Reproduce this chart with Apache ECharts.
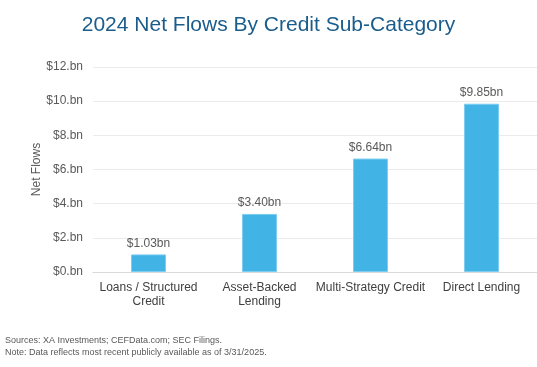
<!DOCTYPE html>
<html>
<head>
<meta charset="utf-8">
<script src="https://cdn.jsdelivr.net/npm/echarts@6/dist/echarts.min.js"></script>
<style>html,body{margin:0;padding:0;background:#fff;}#c{width:537px;height:367px;}</style>
</head>
<body>
<div id="c"></div>
<script>
var categories = ['Loans / Structured\nCredit', 'Asset-Backed\nLending', 'Multi-Strategy Credit', 'Direct Lending'];
var netFlows = [1.03, 3.40, 6.64, 9.85];
var yTicks = [0, 2, 4, 6, 8, 10, 12];
var titleText = '2024 Net Flows By Credit Sub-Category';
var footnotes = ['Sources: XA Investments; CEFData.com; SEC Filings.', 'Note: Data reflects most recent publicly available as of 3/31/2025.'];

var chart = echarts.init(document.getElementById('c'), null, {renderer: 'canvas'});
var font = 'Liberation Sans, Arial, sans-serif';
chart.setOption({
  animation: false,
  backgroundColor: '#fff',
  title: [{
    text: titleText,
    left: 'center',
    top: 10,
    textStyle: {fontFamily: font, fontSize: 21, fontWeight: 'normal', color: '#1A5C8C'}
  }],
  graphic: [{
    type: 'text', left: 5, top: 335,
    style: {text: footnotes.join('\n'), font: '9px ' + font, fill: '#595959', lineHeight: 12}
  }],
  grid: {left: 93, top: 67, width: 450, height: 205, containLabel: false},
  xAxis: {
    type: 'category',
    data: categories,
    axisLine: {lineStyle: {color: '#D9D9D9'}},
    axisTick: {show: false},
    axisLabel: {color: '#404040', fontFamily: font, fontSize: 12, margin: 9, lineHeight: 14, interval: 0}
  },
  yAxis: {
    type: 'value',
    min: yTicks[0], max: yTicks[yTicks.length - 1], interval: 2,
    name: 'Net Flows',
    nameLocation: 'middle',
    nameGap: 50,
    nameRotate: 90,
    nameMoveOverlap: false,
    nameTextStyle: {color: '#595959', fontFamily: font, fontSize: 12},
    axisLine: {show: false},
    axisTick: {show: false},
    splitLine: {lineStyle: {color: '#EBEBEB'}},
    axisLabel: {color: '#595959', fontFamily: font, fontSize: 12, margin: 10,
      formatter: function (v) { return '$' + v + '.bn'; }}
  },
  series: [{
    type: 'bar',
    data: netFlows,
    barWidth: 35,
    itemStyle: {color: '#41B3E4', borderColor: '#7CCDF0', borderWidth: 1},
    label: {show: true, position: 'top', distance: 5, color: '#595959', fontFamily: font, fontSize: 12,
      formatter: function (p) { return '$' + p.value.toFixed(2) + 'bn'; }}
  }]
});
</script>
</body>
</html>
